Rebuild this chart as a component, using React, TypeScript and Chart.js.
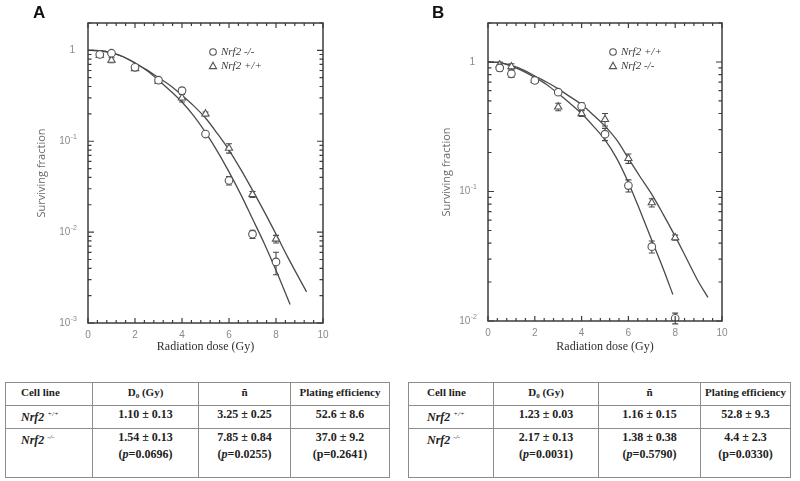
import React, { useEffect, useRef } from 'react';
import { Chart, registerables } from 'chart.js';

Chart.register(...registerables);

// ---------------- Panel A data ----------------
const doseA = [0.5, 1, 2, 3, 4, 5, 6, 7, 8];
const aKoSurv = [0.9, 0.93, 0.65, 0.47, 0.36, 0.12, 0.037, 0.0095, 0.0047]; // circles, Nrf2 -/-
const aKoErr = [0.03, 0.04, 0.03, 0.02, 0.03, 0.006, 0.004, 0.001, 0.0013];
const aWtSurv = [0.88, 0.78, 0.63, 0.46, 0.3, 0.2, 0.084, 0.026, 0.0084]; // triangles, Nrf2 +/+
const aWtErr = [0.03, 0.05, 0.03, 0.02, 0.03, 0.01, 0.01, 0.002, 0.0008];
const aKoFitDose = [0, 0.5, 1, 1.5, 2, 2.5, 3, 3.5, 4, 4.5, 5, 5.5, 6, 6.5, 7, 7.5, 8, 8.6];
const aKoFit = [1.0, 0.99, 0.94, 0.85, 0.73, 0.6, 0.47, 0.36, 0.27, 0.19, 0.125, 0.078, 0.046, 0.026, 0.014, 0.0075, 0.0038, 0.0016];
const aWtFitDose = [0, 0.5, 1, 1.5, 2, 2.5, 3, 3.5, 4, 4.5, 5, 5.5, 6, 6.5, 7, 7.5, 8, 8.5, 9.3];
const aWtFit = [1.0, 0.99, 0.94, 0.85, 0.72, 0.61, 0.5, 0.41, 0.32, 0.245, 0.18, 0.122, 0.08, 0.049, 0.029, 0.0168, 0.0095, 0.0053, 0.0022];
const aLegend = ['Nrf2 -/-', 'Nrf2 +/+'];
const aDecades = [1, 0.1, 0.01, 0.001];

// ---------------- Panel B data ----------------
const doseB = [0.5, 1, 2, 3, 4, 5, 6, 7, 8];
const bWtSurv = [0.9, 0.81, 0.72, 0.585, 0.455, 0.277, 0.111, 0.0375, 0.0105]; // circles, Nrf2 +/+
const bWtErr = [0.05, 0.05, 0.03, 0.02, 0.03, 0.03, 0.012, 0.004, 0.001];
const bKoSurv = [0.95, 0.92, 0.72, 0.45, 0.4, 0.36, 0.18, 0.082, 0.044]; // triangles, Nrf2 -/-
const bKoErr = [0.05, 0.05, 0.03, 0.03, 0.02, 0.04, 0.015, 0.006, 0.002];
const bWtFitDose = [0, 0.5, 1, 1.5, 2, 2.5, 3, 3.5, 4, 4.5, 5, 5.5, 6, 6.5, 7, 7.5, 7.9];
const bWtFit = [1.0, 0.99, 0.93, 0.85, 0.76, 0.67, 0.57, 0.48, 0.4, 0.32, 0.25, 0.18, 0.117, 0.071, 0.042, 0.025, 0.016];
const bKoFitDose = [0, 0.5, 1, 1.5, 2, 2.5, 3, 3.5, 4, 4.5, 5, 5.5, 6, 6.5, 7, 7.5, 8, 8.5, 9, 9.4];
const bKoFit = [1.0, 0.99, 0.94, 0.87, 0.78, 0.7, 0.62, 0.54, 0.47, 0.39, 0.32, 0.25, 0.18, 0.13, 0.095, 0.066, 0.045, 0.03, 0.02, 0.0152];
const bLegend = ['Nrf2 +/+', 'Nrf2 -/-'];
const bDecades = [1, 0.1, 0.01];

// ---------------- Axis / table text ----------------
const xTitle = 'Radiation dose (Gy)';
const yTitle = 'Surviving fraction';
const tableHeaders = ['Cell line', 'D0 (Gy)', 'ñ', 'Plating efficiency'];
const tableAWt = ['1.10 ± 0.13', '3.25 ± 0.25', '52.6 ± 8.6'];
const tableAKo = ['1.54 ± 0.13', '7.85 ± 0.84', '37.0 ± 9.2'];
const tableAP = ['0.0696', '0.0255', '0.2641'];
const tableBWt = ['1.23 ± 0.03', '1.16 ± 0.15', '52.8 ± 9.3'];
const tableBKo = ['2.17 ± 0.13', '1.38 ± 0.38', '4.4 ± 2.3'];
const tableBP = ['0.0031', '0.5790', '0.0330'];

const INK = '#4a4a4a';

const pts = (xs: number[], ys: number[]) => xs.map((x, i) => ({ x, y: ys[i] }));

function drawMarker(ctx: CanvasRenderingContext2D, style: string, x: number, y: number, r: number) {
  ctx.beginPath();
  if (style === 'circle') {
    ctx.arc(x, y, r, 0, Math.PI * 2);
  } else {
    const h = r * 1.15;
    ctx.moveTo(x, y - h);
    ctx.lineTo(x + h * 0.95, y + h * 0.7);
    ctx.lineTo(x - h * 0.95, y + h * 0.7);
    ctx.closePath();
  }
  ctx.stroke();
}

const survivalPlugin = {
  id: 'survival',
  beforeDatasetsDraw(chart: any) {
    const { ctx, scales } = chart;
    const xs = scales.x;
    const ys = scales.y;
    ctx.save();
    ctx.strokeStyle = INK;
    ctx.lineWidth = 1.1;
    chart.data.datasets.forEach((ds: any) => {
      if (!ds.errors) return;
      ds.data.forEach((p: any, i: number) => {
        const e = ds.errors[i];
        const px = xs.getPixelForValue(p.x);
        const hi = ys.getPixelForValue(p.y + e);
        const lo = ys.getPixelForValue(Math.max(p.y - e, p.y * 0.05));
        ctx.beginPath();
        ctx.moveTo(px, hi);
        ctx.lineTo(px, lo);
        ctx.moveTo(px - 3, hi);
        ctx.lineTo(px + 3, hi);
        ctx.moveTo(px - 3, lo);
        ctx.lineTo(px + 3, lo);
        ctx.stroke();
      });
    });
    ctx.restore();
  },
  afterDraw(chart: any, _args: any, opts: any) {
    const { ctx, chartArea: a, scales } = chart;
    const xs = scales.x;
    const ys = scales.y;
    ctx.save();
    // frame
    ctx.strokeStyle = '#3c3c3c';
    ctx.lineWidth = 1.5;
    ctx.strokeRect(a.left, a.top, a.right - a.left, a.bottom - a.top);
    // x ticks (inward, top and bottom)
    ctx.lineWidth = 1.2;
    ctx.beginPath();
    for (let i = 0; i <= 25; i++) {
      const v = i * 0.4;
      const px = xs.getPixelForValue(v);
      const major = Math.abs(v / 2 - Math.round(v / 2)) < 1e-6;
      const len = major ? 5 : 3;
      ctx.moveTo(px, a.bottom);
      ctx.lineTo(px, a.bottom - len);
      ctx.moveTo(px, a.top);
      ctx.lineTo(px, a.top + len);
    }
    // y ticks (inward, left and right)
    const lo = Math.floor(Math.log10(ys.min));
    const hi = Math.ceil(Math.log10(ys.max));
    for (let d = lo; d <= hi; d++) {
      for (let m = 1; m <= 9; m++) {
        const v = m * Math.pow(10, d);
        if (v < ys.min * 0.999 || v > ys.max * 1.001) continue;
        const py = ys.getPixelForValue(v);
        const len = m === 1 ? 6 : 3.5;
        ctx.moveTo(a.left, py);
        ctx.lineTo(a.left + len, py);
        ctx.moveTo(a.right, py);
        ctx.lineTo(a.right - len, py);
      }
    }
    ctx.stroke();
    // y labels: 1, 10^-1, ...
    ctx.fillStyle = '#8a8a8a';
    ctx.textBaseline = 'middle';
    (opts.decades || []).forEach((v: number) => {
      const py = ys.getPixelForValue(v);
      const e = Math.round(Math.log10(v));
      const rx = a.left - 11;
      if (e === 0) {
        ctx.font = '10px "Liberation Sans", Arial, sans-serif';
        ctx.textAlign = 'right';
        ctx.fillText('1', rx - 2, py);
      } else {
        ctx.font = '7px "Liberation Sans", Arial, sans-serif';
        const sup = String(e);
        const sw = ctx.measureText(sup).width;
        ctx.textAlign = 'right';
        ctx.fillText(sup, rx, py - 4);
        ctx.font = '10px "Liberation Sans", Arial, sans-serif';
        ctx.fillText('10', rx - sw - 0.5, py);
      }
    });
    // legend inside the plot
    ctx.strokeStyle = '#555';
    ctx.lineWidth = 1.1;
    ctx.fillStyle = '#3a3a3a';
    ctx.textAlign = 'left';
    ctx.font = 'italic 11px "Liberation Serif", "Times New Roman", serif';
    (opts.legend || []).forEach((item: any, i: number) => {
      const mx = a.left + 125;
      const my = a.top + 29 + i * 14;
      drawMarker(ctx, item.style, mx, my, 3.3);
      ctx.fillText(item.label, mx + 8, my + 0.5);
    });
    ctx.restore();
  },
};

function buildConfig(p: any): any {
  const markerBase = {
    showLine: false,
    borderColor: '#555',
    backgroundColor: '#ffffff',
    borderWidth: 1.1,
    pointHoverRadius: 4,
  };
  const curveBase = {
    showLine: true,
    pointRadius: 0,
    pointHoverRadius: 0,
    borderColor: '#4a4a4a',
    borderWidth: 1.3,
    cubicInterpolationMode: 'monotone',
    fill: false,
  };
  return {
    type: 'scatter',
    data: {
      datasets: [
        { ...markerBase, label: p.legend[0], data: pts(p.dose, p.circ), pointStyle: 'circle', pointRadius: 3.8, errors: p.circErr },
        { ...markerBase, label: p.legend[1], data: pts(p.dose, p.tri), pointStyle: 'triangle', pointRadius: 4.2, errors: p.triErr },
        { ...curveBase, label: 'fit 1', data: pts(p.fit1Dose, p.fit1) },
        { ...curveBase, label: 'fit 2', data: pts(p.fit2Dose, p.fit2) },
      ],
    },
    options: {
      animation: false,
      responsive: true,
      maintainAspectRatio: false,
      events: [],
      layout: { padding: { top: 23, right: p.padRight, left: 0, bottom: 0 } },
      plugins: {
        legend: { display: false },
        tooltip: { enabled: false },
        survival: {
          decades: p.decades,
          legend: [
            { style: 'circle', label: p.legend[0] },
            { style: 'triangle', label: p.legend[1] },
          ],
        },
      },
      scales: {
        x: {
          type: 'linear',
          min: 0,
          max: 10,
          bounds: 'data',
          grid: { display: false, drawTicks: false },
          border: { display: false },
          ticks: {
            stepSize: 2,
            padding: 6,
            color: '#8a8a8a',
            font: { family: '"Liberation Sans", Arial, sans-serif', size: 10 },
          },
          title: {
            display: true,
            text: xTitle,
            color: '#2e2e2e',
            font: { family: '"Liberation Serif", "Times New Roman", serif', size: 12 },
            padding: { top: 0, bottom: 6 },
          },
          afterFit: (s: any) => {
            s.height = p.xBoxH;
          },
        },
        y: {
          type: 'logarithmic',
          min: p.yMin,
          max: 2,
          bounds: 'data',
          grid: { display: false, drawTicks: false },
          border: { display: false },
          ticks: { display: false },
          title: {
            display: true,
            text: yTitle,
            color: '#6a6a6a',
            font: { family: '"Open Sans", "Liberation Sans", sans-serif', size: 11 },
            padding: { top: p.yTitlePad, bottom: 0 },
          },
          afterFit: (s: any) => {
            s.width = 88;
          },
        },
      },
    },
    plugins: [survivalPlugin],
  };
}

const panelA = {
  left: 0,
  dose: doseA,
  circ: aKoSurv,
  circErr: aKoErr,
  tri: aWtSurv,
  triErr: aWtErr,
  fit1Dose: aKoFitDose,
  fit1: aKoFit,
  fit2Dose: aWtFitDose,
  fit2: aWtFit,
  legend: aLegend,
  decades: aDecades,
  yMin: 0.001,
  padRight: 77,
  xBoxH: 37,
  yTitlePad: 35,
};

const panelB = {
  left: 400,
  dose: doseB,
  circ: bWtSurv,
  circErr: bWtErr,
  tri: bKoSurv,
  triErr: bKoErr,
  fit1Dose: bWtFitDose,
  fit1: bWtFit,
  fit2Dose: bKoFitDose,
  fit2: bKoFit,
  legend: bLegend,
  decades: bDecades,
  yMin: 0.01,
  padRight: 78,
  xBoxH: 39,
  yTitlePad: 40,
};

function SurvivalChart({ panel }: { panel: any }) {
  const ref = useRef<HTMLCanvasElement>(null);
  useEffect(() => {
    if (!ref.current) return;
    const chart = new Chart(ref.current, buildConfig(panel));
    return () => chart.destroy();
  }, [panel]);
  return (
    <div style={{ position: 'absolute', left: panel.left, top: 0, width: 400, height: 360 }}>
      <canvas ref={ref} />
    </div>
  );
}

const serif = '"Liberation Serif", "Times New Roman", serif';

function StatsTable({ left, top, cols, firstPad, wt, ko, pv }: any) {
  const border = '1px solid #8c8c8c';
  const cell: React.CSSProperties = {
    border,
    padding: '1px 0 0 0',
    verticalAlign: 'top',
    textAlign: 'center',
    fontWeight: 'bold',
    fontFamily: serif,
    fontSize: '12px',
    lineHeight: '14px',
    color: '#222',
    overflow: 'hidden',
    whiteSpace: 'nowrap',
  };
  const head: React.CSSProperties = { ...cell, fontSize: '11px', paddingTop: 2 };
  const first: React.CSSProperties = { ...cell, textAlign: 'left', paddingLeft: firstPad };
  const headFirst: React.CSSProperties = { ...head, textAlign: 'left', paddingLeft: firstPad };
  const total = cols.reduce((s: number, w: number) => s + w, 0);
  const genotype = (sup: string) => (
    <span>
      <i>Nrf2</i>
      <sup style={{ fontSize: '7px', fontStyle: 'italic', fontWeight: 'normal', marginLeft: 3, verticalAlign: '5px' }}>{sup}</sup>
    </span>
  );
  return (
    <table
      style={{
        position: 'absolute',
        left,
        top,
        width: total,
        borderCollapse: 'collapse',
        tableLayout: 'fixed',
        border: '1px solid #777',
      }}
    >
      <colgroup>
        {cols.map((w: number, i: number) => (
          <col key={i} style={{ width: w }} />
        ))}
      </colgroup>
      <tbody>
        <tr style={{ height: 23 }}>
          <td style={headFirst}>{tableHeaders[0]}</td>
          <td style={head}>
            D<sub style={{ fontSize: '7px', verticalAlign: '-2px' }}>0</sub> (Gy)
          </td>
          <td style={head}>{tableHeaders[2]}</td>
          <td style={head}>{tableHeaders[3]}</td>
        </tr>
        <tr style={{ height: 23 }}>
          <td style={first}>{genotype('+/+')}</td>
          {wt.map((t: string, i: number) => (
            <td key={i} style={cell}>
              {t}
            </td>
          ))}
        </tr>
        <tr style={{ height: 49 }}>
          <td style={first}>{genotype('-/-')}</td>
          {ko.map((t: string, i: number) => (
            <td key={i} style={cell}>
              <div>{t}</div>
              <div style={{ marginTop: 3 }}>
                ({i < 2 ? <i>p</i> : 'p'}={pv[i]})
              </div>
            </td>
          ))}
        </tr>
      </tbody>
    </table>
  );
}

export default function App() {
  const letter: React.CSSProperties = {
    position: 'absolute',
    top: 4,
    fontFamily: '"Liberation Sans", Arial, sans-serif',
    fontWeight: 'bold',
    fontSize: '17px',
    lineHeight: '17px',
    color: '#111',
  };
  return (
    <div style={{ position: 'absolute', left: 0, top: 0, width: 800, height: 481, background: '#fff', overflow: 'hidden' }}>
      <SurvivalChart panel={panelA} />
      <SurvivalChart panel={panelB} />
      <div style={{ ...letter, left: 33 }}>A</div>
      <div style={{ ...letter, left: 432 }}>B</div>
      <StatsTable left={5} top={382} cols={[87, 106, 92, 99]} firstPad={15} wt={tableAWt} ko={tableAKo} pv={tableAP} />
      <StatsTable left={408} top={382} cols={[85, 105, 102, 90]} firstPad={18} wt={tableBWt} ko={tableBKo} pv={tableBP} />
    </div>
  );
}
